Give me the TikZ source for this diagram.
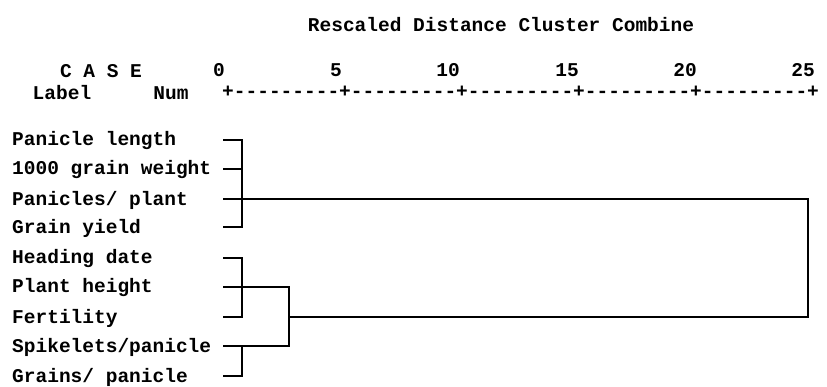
\documentclass[tikz,border=0pt]{standalone}
\usepackage{fontspec}
\setmonofont{Liberation Mono}
\begin{document}
\begin{tikzpicture}[x=1pt,y=-1pt,
  txt/.style={inner sep=0pt,font=\ttfamily\bfseries\fontsize{19.5}{19.5}\selectfont},
  lbl/.style={txt,anchor=west},
  tree/.style={line width=1.8pt,line cap=rect}]
\useasboundingbox (0,0) rectangle (827,387);
% header
\node[txt] (title) at (501,25) {Rescaled Distance Cluster Combine};
\node[txt] (case) at (101,71) {C A S E};
\node[txt] (labelh) at (62,93) {Label};
\node[txt] (num) at (171,93) {Num};
\node[txt] (n0) at (219,70) {0};
\node[txt] (n5) at (336,70) {5};
\node[txt] (n10) at (448,70) {10};
\node[txt] (n15) at (567,70) {15};
\node[txt] (n20) at (685,70) {20};
\node[txt] (n25) at (803,70) {25};
\node[txt,anchor=west] (axis) at (222,92) {+---------+---------+---------+---------+---------+};
% labels
\node[lbl] (a1) at (12,141) {Panicle length};
\node[lbl] (a2) at (12,170) {1000 grain weight};
\node[lbl] (a3) at (12,200) {Panicles/ plant};
\node[lbl] (a4) at (12,228) {Grain yield};
\node[lbl] (a5) at (12,259) {Heading date};
\node[lbl] (a6) at (12,288) {Plant height};
\node[lbl] (a7) at (12,318) {Fertility};
\node[lbl] (a8) at (12,347) {Spikelets/panicle};
\node[lbl] (a9) at (12,377) {Grains/ panicle};
% leaf starts
\coordinate (s1) at (224,140);
\coordinate (s2) at (224,169);
\coordinate (s3) at (224,199);
\coordinate (s4) at (224,227);
\coordinate (s5) at (224,258);
\coordinate (s6) at (224,287);
\coordinate (s7) at (224,317);
\coordinate (s8) at (224,346);
\coordinate (s9) at (224,376);
% junctions
\coordinate (j1) at (242,199);
\coordinate (j2) at (242,287);
\coordinate (j3) at (242,346);
\coordinate (j4) at (289,317);
\coordinate (root) at (808,199);
% cluster 1
\draw[tree] (s1) -| (j1 |- s4) -- (s4);
\draw[tree] (s2) -- (j1 |- s2);
\draw[tree] (s3) -- (root) |- (j4);
% cluster 2
\draw[tree] (s5) -| (j2 |- s7) -- (s7);
\draw[tree] (s6) -| (j4 |- s8) -- (s8);
\draw[tree] (j3) -- (j3 |- s9) -- (s9);
\end{tikzpicture}
\end{document}
